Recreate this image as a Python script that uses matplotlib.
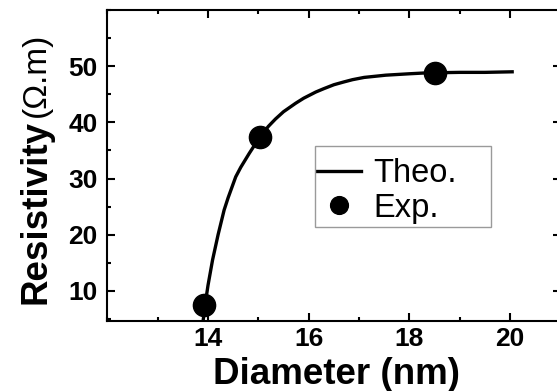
import matplotlib
matplotlib.use("Agg")
import matplotlib.pyplot as plt
from matplotlib.ticker import MultipleLocator
from matplotlib.patches import Rectangle

plt.rcParams['font.family'] = ['Liberation Sans', 'DejaVu Sans']

# Theoretical curve
theo_x = [13.90, 13.95, 14.00, 14.09, 14.20, 14.32, 14.40, 14.55, 14.65, 14.82,
          15.03, 15.20, 15.34, 15.50, 15.74, 15.90, 16.14, 16.30, 16.50, 16.70,
          16.87, 17.10, 17.53, 18.00, 18.32, 19.00, 19.50, 20.04]
theo_y = [4.5, 8.0, 11.0, 15.5, 20.0, 24.4, 26.6, 30.3, 32.0, 34.5,
          37.4, 39.3, 40.6, 41.9, 43.4, 44.3, 45.4, 46.0, 46.7, 47.2,
          47.6, 48.0, 48.4, 48.65, 48.8, 48.9, 48.9, 49.0]

# Experimental points
exp_x = [13.93, 15.03, 18.51]
exp_y = [7.5, 37.4, 48.8]

xticks = [14, 16, 18, 20]
yticks = [10, 20, 30, 40, 50]

W, H = 557, 391
fig = plt.figure(figsize=(W / 100, H / 100), dpi=100)
ax = fig.add_axes([107.3 / W, (H - 320.7) / H, (560.5 - 107.3) / W, (320.7 - 10) / H])

ax.plot(theo_x, theo_y, color='black', lw=2.4, label='Theo.', zorder=2,
        solid_joinstyle='round')
ax.plot(exp_x, exp_y, 'o', color='black', ms=16, label='Exp.', zorder=3)

ax.set_xlim(12, 21)
ax.set_ylim(4.7, 60)
ax.set_xticks(xticks)
ax.set_yticks(yticks)
ax.xaxis.set_minor_locator(MultipleLocator(1))
ax.yaxis.set_minor_locator(MultipleLocator(5))
ax.tick_params(which='both', direction='in', top=True, right=True, width=1.5)
ax.tick_params(which='major', length=6)
ax.tick_params(which='minor', length=3)
ax.tick_params(axis='y', which='major', pad=7)
ax.tick_params(axis='x', which='major', pad=4.5)
for lab in ax.get_xticklabels() + ax.get_yticklabels():
    lab.set_fontsize(19)
    lab.set_fontweight('bold')
for sp in ax.spines.values():
    sp.set_linewidth(1.5)

# Legend frame drawn as a rectangle, legend itself frameless
fig.patches.append(Rectangle((315 / W, 1 - 227 / H), (491 - 315) / W, (227 - 146) / H,
                             transform=fig.transFigure, fill=False,
                             edgecolor='#9a9a9a', linewidth=1.0, zorder=5))
leg = ax.legend(loc='upper left', bbox_to_anchor=(317 / W, 1 - 158 / H),
                bbox_transform=fig.transFigure, borderaxespad=0,
                fontsize=23.5, handlelength=1.35, handletextpad=0.38,
                labelspacing=0.12, borderpad=0.0, markerscale=0.8,
                frameon=False)

# Axis labels
fig.text(336.7 / W, 1 - 384 / H, 'Diameter (nm)', fontsize=26.5, fontweight='bold',
         ha='center', va='baseline')
fig.text(45 / W, 1 - 304 / H, 'Resistivity', fontsize=26.5, fontweight='bold',
         rotation=90, rotation_mode='anchor', ha='left', va='baseline')
fig.text(45 / W, 1 - 117 / H, '(Ω.m)', fontsize=24,
         rotation=90, rotation_mode='anchor', ha='left', va='baseline')

fig.savefig('out.png', dpi=100)
